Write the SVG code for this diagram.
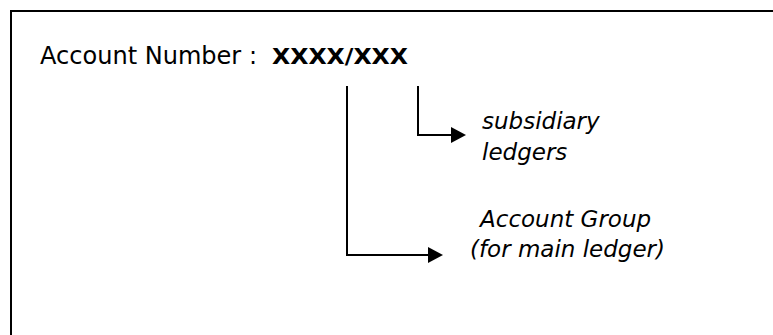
<svg xmlns="http://www.w3.org/2000/svg" width="773" height="335" viewBox="0 0 773 335">
  <style>
    .frame { fill: none; stroke: #000; stroke-width: 2; }
    .conn { fill: none; stroke: #000; stroke-width: 2; }
    .t { font-family: "DejaVu Sans", "Liberation Sans", sans-serif; fill: #000; }
    .lbl { font-size: 23px; font-style: italic; }
  </style>
  <defs>
    <marker id="arrow" markerUnits="userSpaceOnUse" markerWidth="16" markerHeight="16" refX="13" refY="8" orient="auto">
      <path d="M0,0 L15,8 L0,16 Z" fill="#000"/>
    </marker>
  </defs>
  <rect width="773" height="335" fill="#fff"/>
  <path class="frame" d="M11,340 V11 H780"/>
  <g id="title">
    <text class="t" x="40" y="64" font-size="25" textLength="217" lengthAdjust="spacingAndGlyphs">Account Number :</text>
    <text class="t" x="272" y="64" font-size="22" font-weight="bold" textLength="136" lengthAdjust="spacingAndGlyphs">XXXX/XXX</text>
  </g>
  <g id="connectors">
    <path class="conn" d="M418,86 V135 H464" marker-end="url(#arrow)"/>
    <path class="conn" d="M347,86 V255 H441" marker-end="url(#arrow)"/>
  </g>
  <g id="subsidiary">
    <text class="t lbl" x="482" y="129">subsidiary</text>
    <text class="t lbl" x="482" y="160">ledgers</text>
  </g>
  <g id="account-group">
    <text class="t lbl" x="480" y="227">Account Group</text>
    <text class="t lbl" x="470" y="257">(for main ledger)</text>
  </g>
</svg>
